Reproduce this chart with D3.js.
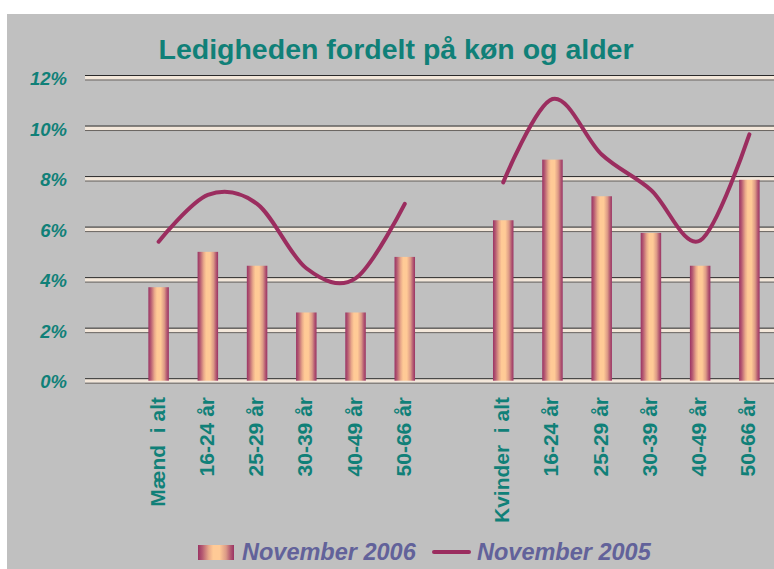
<!DOCTYPE html>
<html>
<head>
<meta charset="utf-8">
<script src="https://cdn.jsdelivr.net/npm/d3@7"></script>
<style>
  html, body { margin: 0; padding: 0; background: #ffffff; }
  svg { display: block; }
  text { font-family: "Liberation Sans", Arial, sans-serif; }
</style>
</head>
<body>
<svg id="chart" width="774" height="569"></svg>
<script>
// ---- data ----
const title = "Ledigheden fordelt på køn og alder";
const categories = ["Mænd  i alt", "16-24 år", "25-29 år", "30-39 år", "40-49 år", "50-66 år",
                    "", // gap
                    "Kvinder  i alt", "16-24 år ", "25-29 år ", "30-39 år ", "40-49 år ", "50-66 år "];
const nov2006 = [3.7, 5.1, 4.55, 2.7, 2.7, 4.9, null, 6.35, 8.75, 7.3, 5.85, 4.55, 7.95];
const nov2005 = [5.5, 7.35, 7.0, 4.45, 4.05, 7.0, null, 7.85, 11.15, 8.95, 7.55, 5.55, 9.75];
const yTicks = [0, 2, 4, 6, 8, 10, 12];
const seriesNames = ["November 2006", "November 2005"];

// ---- layout ----
const svg = d3.select("#chart");
const teal = "#108078";
const lineColor = "#9b2d5f";

svg.append("rect").attr("x", 7).attr("y", 14).attr("width", 767).attr("height", 555).attr("fill", "#c0c0c0");

const defs = svg.append("defs");
const grad = defs.append("linearGradient").attr("id", "barGrad").attr("x1", "0%").attr("x2", "100%").attr("y1", "0%").attr("y2", "0%");
[[0, "#9a3363"], [0.12, "#b55a72"], [0.3, "#e9a98a"], [0.42, "#ffca96"], [0.6, "#ffca96"], [0.78, "#dc9a86"], [0.9, "#b45a72"], [1, "#9a3363"]]
  .forEach(([o, c]) => grad.append("stop").attr("offset", o).attr("stop-color", c));

const y = d3.scaleLinear().domain([0, 12]).range([380.7, 77.5]);
const x = d3.scalePoint().domain(categories).range([134, 774]).padding(0.5);
const barW = 20.5;

// gridlines
const grid = svg.append("g");
yTicks.forEach(t => {
  const yy = y(t);
  grid.append("rect").attr("x", 85).attr("y", yy - 2).attr("width", 689).attr("height", 4).attr("fill", "#f3e7da");
  grid.append("line").attr("x1", 85).attr("x2", 774).attr("y1", yy - 2).attr("y2", yy - 2).attr("stroke", "#2a2a2a").attr("stroke-width", 1);
  grid.append("line").attr("x1", 85).attr("x2", 774).attr("y1", yy + 2.5).attr("y2", yy + 2.5).attr("stroke", "#6a6560").attr("stroke-width", 1);
});

// y axis labels
const yAxis = d3.axisLeft(y).tickValues(yTicks).tickFormat(d => d + "%").tickSize(0).tickPadding(0);
const yg = svg.append("g").attr("transform", "translate(67,0)").call(yAxis);
yg.select(".domain").remove();
yg.selectAll("text")
  .attr("fill", teal).attr("font-size", 18.5).attr("font-weight", "bold").attr("font-style", "italic")
  .attr("font-family", "Liberation Sans, Arial, sans-serif")
  .attr("dy", null).attr("y", 7).attr("x", 0).attr("text-anchor", "end");

// title
svg.append("text").attr("x", 396).attr("y", 59).attr("text-anchor", "middle")
  .attr("fill", teal).attr("font-size", 28.5).attr("font-weight", "bold").text(title);

// bars
const barData = categories.map((c, i) => ({ c, v: nov2006[i] })).filter(d => d.v != null);
svg.append("g").selectAll("rect").data(barData).join("rect")
  .attr("x", d => x(d.c) - barW / 2).attr("width", barW)
  .attr("y", d => y(d.v)).attr("height", d => y(0) - y(d.v))
  .attr("fill", "url(#barGrad)");

// x labels
const xl = svg.append("g");
categories.forEach(c => {
  if (!c) return;
  xl.append("text")
    .attr("xml:space", "preserve")
    .attr("transform", `translate(${x(c) + 6},397) rotate(-90)`)
    .attr("text-anchor", "end").attr("fill", teal).attr("font-size", 21).attr("font-weight", "bold")
    .style("white-space", "pre").text(c.trimEnd());
});

// line (two segments)
const lineGen = d3.line().x(d => x(d.c)).y(d => y(d.v)).curve(d3.curveCardinal.tension(0));
const segs = [[], []];
categories.forEach((c, i) => {
  if (nov2005[i] == null) return;
  segs[i < 6 ? 0 : 1].push({ c, v: nov2005[i] });
});
svg.append("g").selectAll("path").data(segs).join("path")
  .attr("d", lineGen).attr("fill", "none").attr("stroke", lineColor).attr("stroke-width", 4)
  .attr("stroke-linecap", "round").attr("stroke-linejoin", "round");

// legend
const lg = svg.append("g");
lg.append("rect").attr("x", 198).attr("y", 545).attr("width", 36).attr("height", 15).attr("fill", "url(#barGrad)");
lg.append("text").attr("x", 242).attr("y", 560).attr("fill", "#62629a").attr("font-size", 23.5)
  .attr("font-weight", "bold").attr("font-style", "italic").text(seriesNames[0]);
lg.append("line").attr("x1", 434).attr("x2", 469).attr("y1", 552).attr("y2", 552)
  .attr("stroke", lineColor).attr("stroke-width", 4).attr("stroke-linecap", "round");
lg.append("text").attr("x", 477).attr("y", 560).attr("fill", "#62629a").attr("font-size", 23.5)
  .attr("font-weight", "bold").attr("font-style", "italic").text(seriesNames[1]);
</script>
</body>
</html>
